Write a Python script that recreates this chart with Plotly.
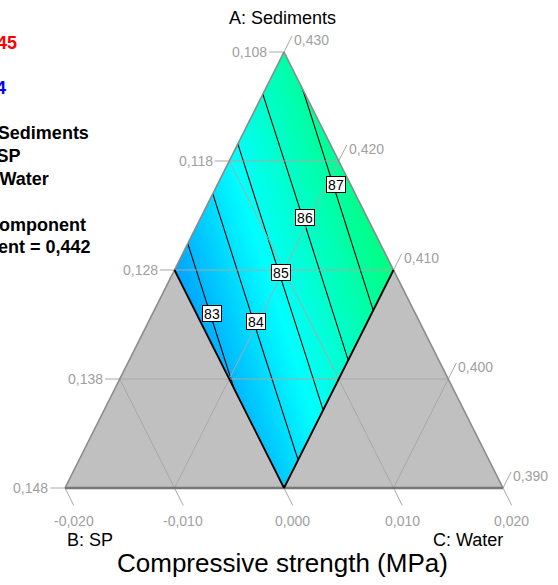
import plotly.graph_objects as go

W, H = 558, 585

# ---------------- data ----------------
axis_a_title = "A: Sediments"
axis_b_title = "B: SP"
axis_c_title = "C: Water"
chart_title = "Compressive strength (MPa)"

side_fracs = [1.0, 0.75, 0.5, 0.25, 0.0]                 # A fraction along the sides
left_tick_labels = ["0,108", "0,118", "0,128", "0,138", "0,148"]
right_tick_labels = ["0,430", "0,420", "0,410", "0,400", "0,390"]
bottom_fracs = [0.0, 0.25, 0.5, 0.75, 1.0]               # C fraction along the base
bottom_tick_labels = ["-0,020", "-0,010", "0,000", "0,010", "0,020"]
grid_fracs = [0.25, 0.5, 0.75]

# predicted compressive strength read at nodes of a grid over the design region
grid_x = [0.25, 0.35, 0.45, 0.55, 0.65, 0.75]
grid_y = [0.0, 0.2, 0.4, 0.6, 0.8, 1.0]
strength = [
    [80.77, 81.84, 82.91, 83.97, 85.04, 86.11],
    [81.45, 82.52, 83.59, 84.65, 85.72, 86.79],
    [82.13, 83.20, 84.27, 85.33, 86.40, 87.47],
    [82.81, 83.88, 84.95, 86.01, 87.08, 88.15],
    [83.49, 84.56, 85.63, 86.69, 87.76, 88.83],
    [84.17, 85.24, 86.31, 87.37, 88.44, 89.51],
]
contour_levels = [83, 84, 85, 86, 87]

label_values = [83, 84, 85, 86, 87]
label_a = [0.401, 0.381, 0.495, 0.620, 0.696]
label_c = [0.135, 0.246, 0.246, 0.239, 0.270]

legend_texts = ["87,45", "82,4", "X1 = A: Sediments", "X2 = B: SP", "X3 = C: Water",
                "Actual Component", "D: Cement = 0,442"]
legend_colors = ["#ff0000", "#0000ff", "black", "black", "black", "black", "black"]

# ---------------- layout helpers ----------------
BX, BY, SX, SY = 65.0, 488.0, 438.0, 436.0   # base-left vertex pixel and triangle size


def tern(a, c):
    """ternary (a, b=1-a-c, c) -> cartesian data coords"""
    return c + a / 2.0, a


def px(xp, yp):
    return xp / W, 1 - yp / H


GRAY_TXT = "#a0a0a0"
FONT = "Liberation Sans, Arial, sans-serif"

fig = go.Figure()

fig.add_trace(go.Contour(
    x=grid_x, y=grid_y, z=strength, zauto=False, zmin=78.5, zmax=103.3,
    colorscale=[[0, "rgb(0,0,255)"], [0.25, "rgb(0,255,255)"], [0.5, "rgb(0,255,0)"],
                [0.75, "rgb(255,255,0)"], [1, "rgb(255,0,0)"]],
    autocontour=False,
    contours=dict(start=contour_levels[0], end=contour_levels[-1], size=1,
                  coloring="heatmap", showlines=True),
    line=dict(color="black", width=1.1), showscale=False, hoverinfo="skip"))


def poly(points, color):
    xs = [p[0] for p in points] + [points[0][0]]
    ys = [p[1] for p in points] + [points[0][1]]
    fig.add_trace(go.Scatter(x=xs, y=ys, mode="lines", fill="toself", fillcolor=color,
                             line=dict(width=0, color=color), hoverinfo="skip", showlegend=False))


A = tern(1, 0)
B = tern(0, 0)
C = tern(0, 1)
# white masks outside the triangle
poly([B, A, (A[0], 1.3), (-0.2, 1.3), (-0.2, -0.3)], "white")
poly([C, A, (A[0], 1.3), (1.2, 1.3), (1.2, -0.3)], "white")
poly([B, C, (1.2, -0.3), (-0.2, -0.3)], "white")
# grey infeasible regions
Lp = tern(0.5, 0)
Rp = tern(0.5, 0.5)
Mp = tern(0, 0.5)
poly([Lp, B, Mp], "#c0c0c0")
poly([Rp, C, Mp], "#c0c0c0")


def lines(segs, color, width):
    xs, ys = [], []
    for p, q in segs:
        xs += [p[0], q[0], None]
        ys += [p[1], q[1], None]
    fig.add_trace(go.Scatter(x=xs, y=ys, mode="lines", line=dict(color=color, width=width),
                             hoverinfo="skip", showlegend=False))


grid = []
for f in grid_fracs:
    grid.append((tern(f, 0), tern(f, 1 - f)))          # constant A
    grid.append((tern(1 - f, 0), tern(0, 1 - f)))      # constant B
    grid.append((tern(1 - f, f), tern(0, f)))          # constant C
lines(grid, "#a8a8a8", 1)

# ticks
ticks = []
for f in side_fracs:
    p = tern(f, 0)
    ticks.append((p, (p[0] - 0.0336, p[1])))
    t = 0.037
    ticks.append((tern(f, 1 - f), tern(f + t, 1 - f)))
for g in bottom_fracs:
    t = 0.04
    ticks.append((tern(0, g), tern(-t, g + t)))
lines(ticks, "#a8a8a8", 1)

# triangle edges
lines([(B, A), (C, A)], "#8a8a8a", 1.6)
lines([(B, C)], "#777777", 2.4)
# design region lower boundaries
lines([(Lp, Mp), (Mp, Rp)], "black", 1.8)

ann = []
for f, s in zip(side_fracs, left_tick_labels):
    p = tern(f, 0)
    ann.append(dict(x=p[0] - 0.0336, y=p[1], xref="x", yref="y", text=s, xanchor="right",
                    yanchor="middle", showarrow=False, font=dict(size=14, color=GRAY_TXT, family=FONT)))
for f, s in zip(side_fracs, right_tick_labels):
    p = tern(f + 0.037, 1 - f)
    ann.append(dict(x=p[0], y=p[1], xref="x", yref="y", text=s, xanchor="left", yshift=-4,
                    yanchor="middle", showarrow=False, font=dict(size=14, color=GRAY_TXT, family=FONT)))
for g, s in zip(bottom_fracs, bottom_tick_labels):
    p = tern(-0.04, g + 0.04)
    ann.append(dict(x=p[0], y=p[1], xref="x", yref="y", text=s, xanchor="center", yshift=-16,
                    yanchor="middle", showarrow=False, font=dict(size=14, color=GRAY_TXT, family=FONT)))

for v, a, c in zip(label_values, label_a, label_c):
    p = tern(a, c)
    ann.append(dict(x=p[0], y=p[1], xref="x", yref="y", text=str(v), showarrow=False,
                    font=dict(size=14, color="black", family=FONT), bgcolor="white",
                    bordercolor="black", borderwidth=1, borderpad=0, width=18, height=15))

# axis titles
x, y = px(282, 18)
ann.append(dict(x=x, y=y, xref="paper", yref="paper", text=axis_a_title, showarrow=False,
                xanchor="center", yanchor="middle", font=dict(size=18, color="black", family=FONT)))
x, y = px(65, 540)
ann.append(dict(x=x, y=y, xref="paper", yref="paper", text=axis_b_title, showarrow=False,
                xanchor="left", yanchor="middle", font=dict(size=18, color="black", family=FONT)))
x, y = px(505, 540)
ann.append(dict(x=x, y=y, xref="paper", yref="paper", text=axis_c_title, showarrow=False,
                xanchor="right", yanchor="middle", font=dict(size=18, color="black", family=FONT)))
x, y = px(282, 563)
ann.append(dict(x=x, y=y, xref="paper", yref="paper", text=chart_title, showarrow=False,
                xanchor="center", yanchor="middle", font=dict(size=26, color="black", family=FONT)))

# cropped legend at the left
legend_right = [19, 8, 91, 23, 51, 88, 93]
legend_mid = [43, 88, 133, 156, 179, 225, 247]
for s, col, xr, ym in zip(legend_texts, legend_colors, legend_right, legend_mid):
    x, y = px(xr, ym)
    ann.append(dict(x=x, y=y, xref="paper", yref="paper", text="<b>" + s + "</b>", showarrow=False,
                    xanchor="right", yanchor="middle", font=dict(size=18, color=col, family=FONT)))

fig.update_layout(
    width=W, height=H, autosize=False, margin=dict(l=0, r=0, t=0, b=0),
    paper_bgcolor="white", plot_bgcolor="white", showlegend=False,
    xaxis=dict(range=[-BX / SX, (W - BX) / SX], visible=False, fixedrange=True),
    yaxis=dict(range=[-(H - BY) / SY, BY / SY], visible=False, fixedrange=True),
    annotations=ann,
)

fig.write_html("out.html")
